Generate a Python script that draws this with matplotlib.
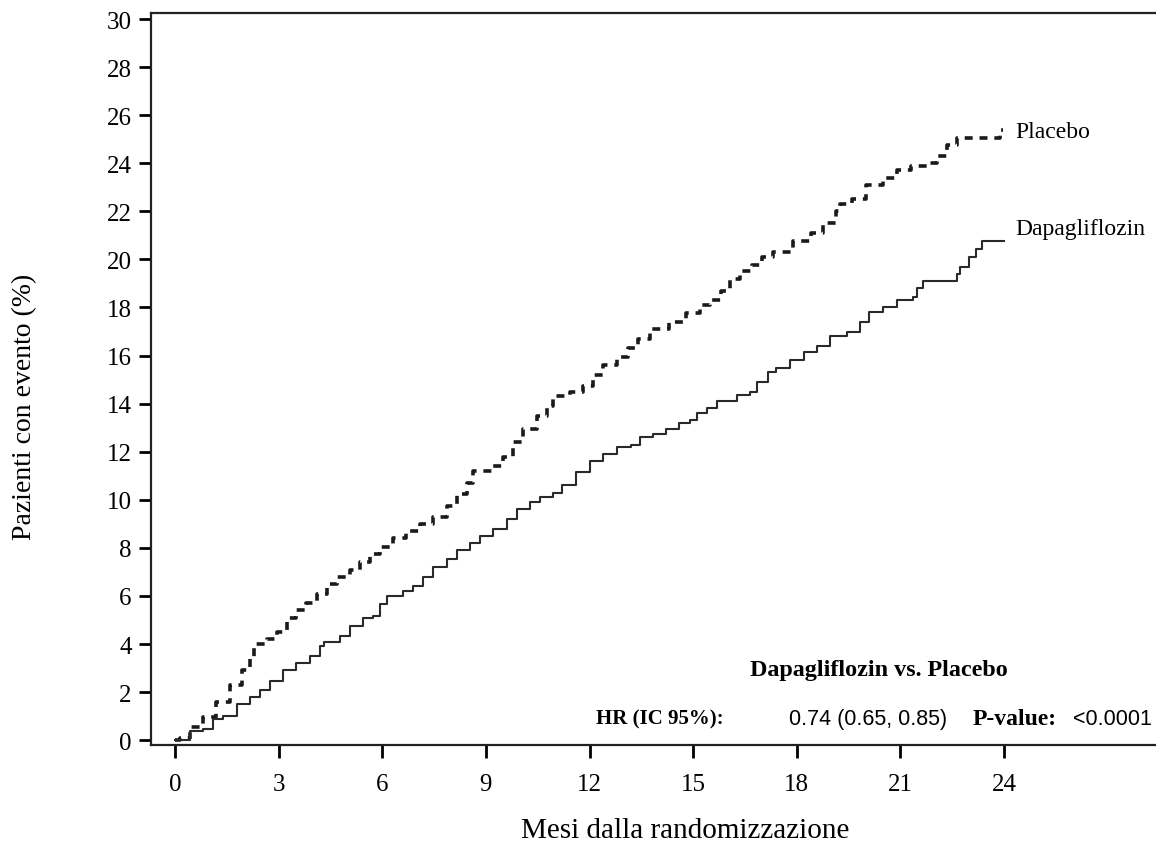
import matplotlib
matplotlib.use("Agg")
import matplotlib.pyplot as plt

plt.rcParams['font.family'] = ['Liberation Serif', 'DejaVu Serif']

# Months / cumulative % of patients with event
placebo_t = [0, 0.14, 0.43, 0.82, 1.2, 1.6, 1.93, 2.17, 2.3, 2.66, 2.95, 3.24, 3.5, 3.8, 4.1,
             4.4, 4.7, 5.07, 5.36, 5.65, 5.94, 6.3, 6.7, 7.1, 7.47, 7.87, 8.16, 8.45, 8.63,
             9.2, 9.5, 9.79, 10.08, 10.48, 10.77, 10.94, 11.44, 11.8, 12.1, 12.4, 12.8,
             13.1, 13.4, 13.75, 14.3, 14.8, 15.2, 15.5, 15.8, 16.07, 16.36, 16.7, 17.0,
             17.3, 17.9, 18.4, 18.76, 19.15, 19.25, 19.6, 20.0, 20.5, 20.9, 21.3, 21.77,
             22.06, 22.35, 22.64, 23.88, 23.97]
placebo_v = [0, 0.1, 0.55, 0.95, 1.6, 2.3, 2.9, 3.45, 4.0, 4.2, 4.5, 5.1, 5.4, 5.7, 6.1,
             6.5, 6.8, 7.1, 7.4, 7.75, 8.05, 8.4, 8.7, 9.0, 9.3, 9.75, 10.25, 10.7, 11.2,
             11.4, 11.8, 12.4, 12.96, 13.5, 13.9, 14.3, 14.5, 14.75, 15.2, 15.6, 15.95,
             16.3, 16.7, 17.1, 17.4, 17.75, 18.1, 18.3, 18.7, 19.2, 19.5, 19.75, 20.1,
             20.3, 20.75, 21.1, 21.5, 22.0, 22.3, 22.5, 23.1, 23.4, 23.7, 23.9, 24.0,
             24.3, 24.75, 25.04, 25.4, 25.4]

dapa_t = [0, 0.43, 0.82, 1.1, 1.4, 1.8, 2.17, 2.46, 2.75, 3.13, 3.5, 3.9, 4.2, 4.3, 4.78,
          5.07, 5.45, 5.73, 5.94, 6.14, 6.6, 6.9, 7.18, 7.47, 7.87, 8.16, 8.54, 8.83, 9.2,
          9.6, 9.9, 10.28, 10.57, 10.94, 11.2, 11.6, 12.0, 12.4, 12.8, 13.2, 13.46, 13.84,
          14.2, 14.6, 14.9, 15.1, 15.4, 15.7, 16.27, 16.65, 16.85, 17.17, 17.4, 17.8,
          18.2, 18.6, 18.96, 19.45, 19.83, 20.1, 20.5, 20.9, 21.37, 21.47, 21.66, 22.64,
          22.73, 23.0, 23.2, 23.35, 23.5, 24.0]
dapa_v = [0, 0.37, 0.45, 0.87, 1.0, 1.5, 1.8, 2.1, 2.46, 2.9, 3.2, 3.5, 3.9, 4.1, 4.35,
          4.75, 5.1, 5.17, 5.65, 6.0, 6.2, 6.4, 6.8, 7.2, 7.55, 7.9, 8.2, 8.5, 8.8,
          9.2, 9.6, 9.9, 10.1, 10.3, 10.6, 11.15, 11.6, 11.9, 12.2, 12.3, 12.6, 12.75,
          12.95, 13.2, 13.3, 13.6, 13.8, 14.1, 14.35, 14.5, 14.9, 15.3, 15.5, 15.8,
          16.15, 16.4, 16.8, 17.0, 17.4, 17.8, 18.0, 18.3, 18.45, 18.8, 19.1, 19.4,
          19.7, 20.1, 20.45, 20.75, 20.75, 20.75]

x_ticks = [0, 3, 6, 9, 12, 15, 18, 21, 24]
y_ticks = list(range(0, 31, 2))

series_labels = ["Placebo", "Dapagliflozin"]
comparison_title = "Dapagliflozin vs. Placebo"
hr_label = "HR (IC 95%):"
hr_value = "0.74 (0.65, 0.85)"
p_label = "P-value:"
p_value = "<0.0001"

fig = plt.figure(figsize=(11.56, 8.45), dpi=100)
ax = fig.add_axes([151/1156, 1 - 746/845, 1 - 151/1156, (746 - 14)/845])

ax.step(placebo_t, placebo_v, where='post', color='#1a1a1a', lw=2.6,
        linestyle=(0, (2.2, 1.9)))
ax.step(dapa_t, dapa_v, where='post', color='#2a2a2a', lw=1.5)

ax.set_xlim(-0.695, 28.4)
ax.set_ylim(-0.2, 30.25)
ax.set_xticks(x_ticks)
ax.set_yticks(y_ticks)
ax.tick_params(axis='both', direction='out', length=9, width=2, labelsize=18,
               colors='black')
ax.tick_params(axis='x', pad=11)
ax.tick_params(axis='y', pad=5)
for s in ['left', 'top', 'bottom']:
    ax.spines[s].set_linewidth(1.6)
    ax.spines[s].set_color('#222222')
ax.spines['right'].set_visible(False)

ax.text(24.32, 25.3, series_labels[0], fontsize=17, va='center', ha='left')
ax.text(24.32, 21.3, series_labels[1], fontsize=17, va='center', ha='left')

ax.text(20.38, 2.96, comparison_title, fontsize=17.4, fontweight='bold',
        ha='center', va='center')
ax.text(12.19, 0.9, hr_label, fontsize=15, fontweight='bold', ha='left', va='center')
ax.text(17.77, 0.9, hr_value, fontsize=15.5, ha='left', va='center',
        family=['Liberation Sans', 'DejaVu Sans'])
ax.text(23.08, 0.9, p_label, fontsize=17, fontweight='bold', ha='left', va='center')
ax.text(26.0, 0.9, p_value, fontsize=15.5, ha='left', va='center',
        family=['Liberation Sans', 'DejaVu Sans'])

fig.text(685/1156, 1 - 831/845, "Mesi dalla randomizzazione", fontsize=21,
         ha='center', va='center')
fig.text(25/1156, 1 - 407/845, "Pazienti con evento (%)", fontsize=20,
         ha='center', va='center', rotation=90)

fig.savefig("out.png", dpi=100)
